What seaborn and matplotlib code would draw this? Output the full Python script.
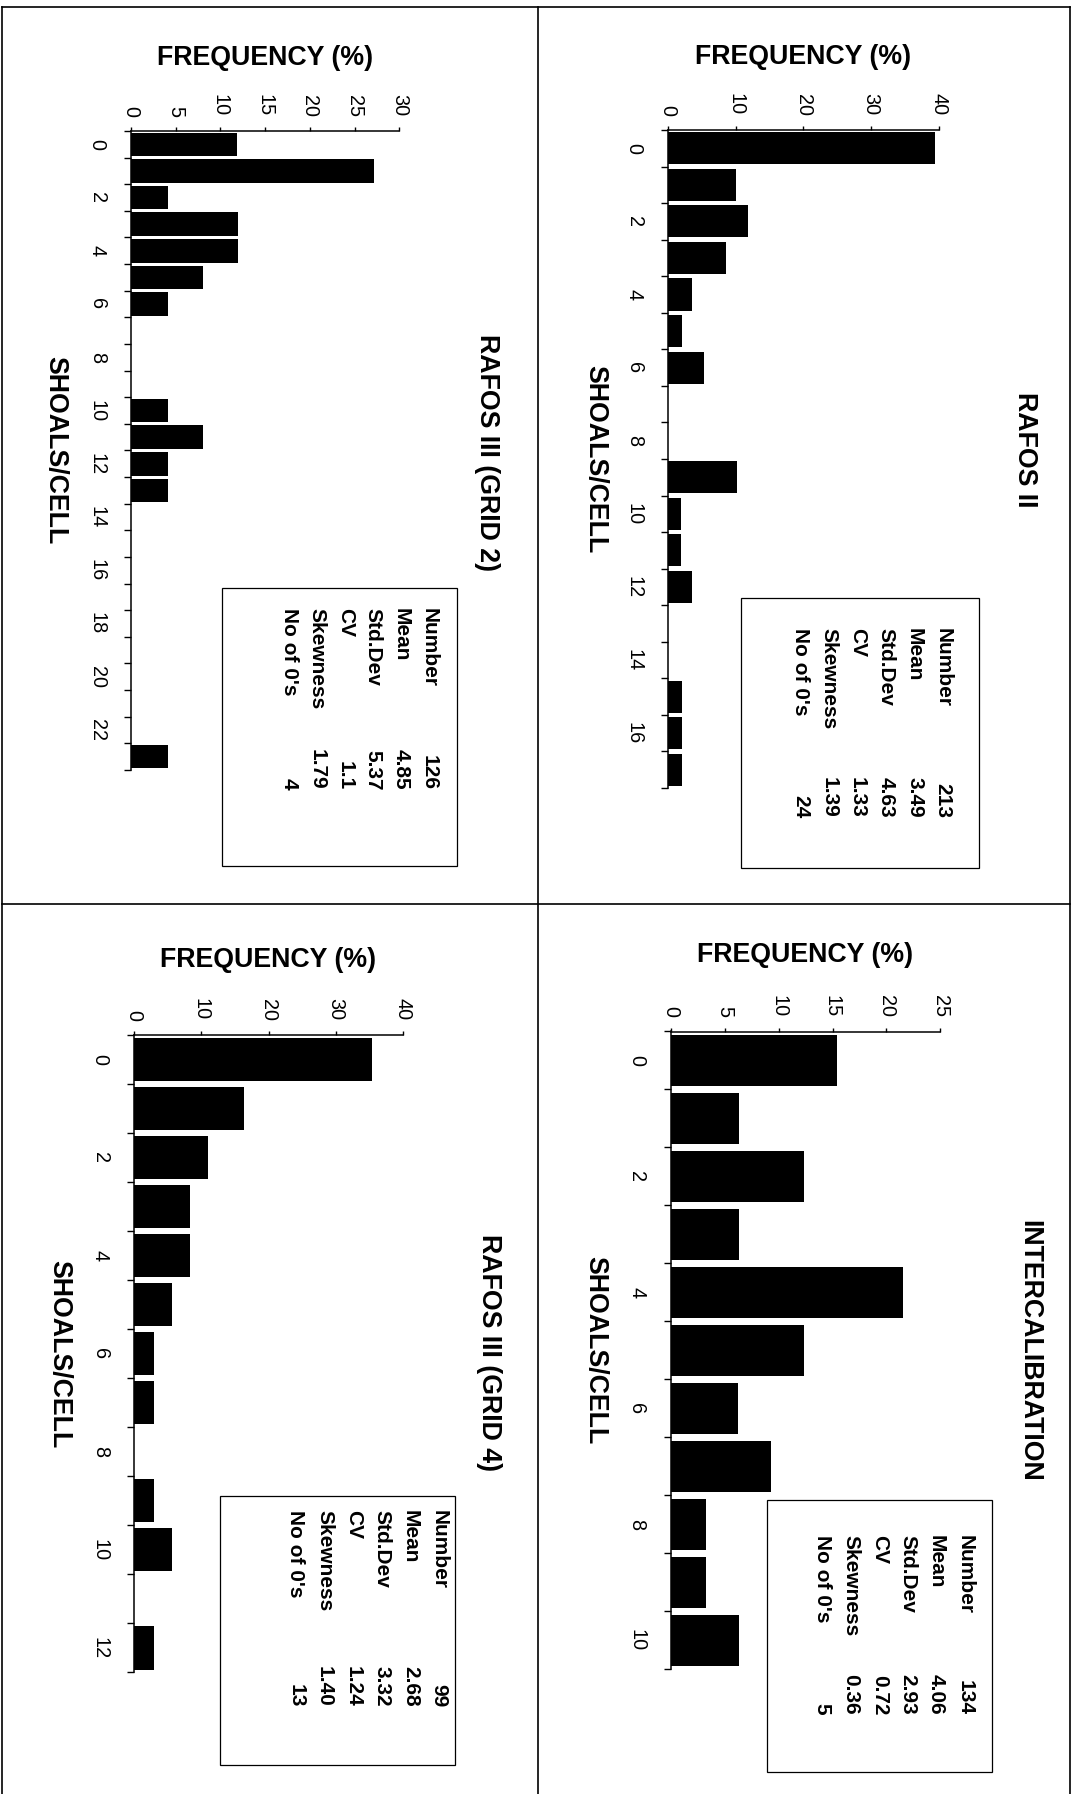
import numpy as np
import pandas as pd
import matplotlib
matplotlib.use("Agg")
import matplotlib.pyplot as plt
import seaborn as sns
from matplotlib.patches import Rectangle
from matplotlib.lines import Line2D

# ---------------- data ----------------
rafos2_shoals = list(range(18))
rafos2_freq = [39.5, 10.1, 11.8, 8.6, 3.6, 2.0, 5.3, 0, 0, 10.2, 1.9, 1.9, 3.6, 0, 0, 2.0, 2.0, 2.1]
rafos2_stats = ["213", "3.49", "4.63", "1.33", "1.39", "24"]

grid2_shoals = list(range(24))
grid2_freq = [11.8, 27.2, 4.1, 11.9, 11.9, 8.0, 4.1, 0, 0, 0, 4.1, 8.0, 4.1, 4.1,
              0, 0, 0, 0, 0, 0, 0, 0, 0, 4.1]
grid2_stats = ["126", "4.85", "5.37", "1.1", "1.79", "4"]

intercal_shoals = list(range(11))
intercal_freq = [15.4, 6.3, 12.4, 6.3, 21.5, 12.4, 6.2, 9.3, 3.3, 3.3, 6.3]
intercal_stats = ["134", "4.06", "2.93", "0.72", "0.36", "5"]

grid4_shoals = list(range(13))
grid4_freq = [35.4, 16.4, 11.0, 8.4, 8.4, 5.6, 3.0, 3.0, 0, 3.0, 5.7, 0, 3.0]
grid4_stats = ["99", "2.68", "3.32", "1.24", "1.40", "13"]

stat_names = ["Number", "Mean", "Std.Dev", "CV", "Skewness", "No of 0's"]
titles = ["RAFOS II", "RAFOS III (GRID 2)", "INTERCALIBRATION", "RAFOS III (GRID 4)"]
freq_label = "FREQUENCY (%)"
shoal_label = "SHOALS/CELL"

# ---------------- layout ----------------
W, H = 1079, 1794
DPI = 100
plt.rcParams['font.family'] = ['Liberation Sans', 'DejaVu Sans']

fig = plt.figure(figsize=(W / DPI, H / DPI), dpi=DPI)
fig.patch.set_facecolor('white')


def fx(px):
    return px / W


def fy(py):
    return 1 - py / H


panels = [
    dict(title=titles[0], shoals=rafos2_shoals, freq=rafos2_freq, stats=rafos2_stats,
         xmax=40, xstep=10, ax=(668, 938.5, 130, 788), freq_y=57, shoals_x=595,
         title_xy=(1025, 450), box=(741, 979, 598, 868), row0=943, rowstep=28.5,
         lab_y=628, val_y=818),
    dict(title=titles[1], shoals=grid2_shoals, freq=grid2_freq, stats=grid2_stats,
         xmax=30, xstep=5, ax=(131, 399.5, 131, 770), freq_y=58, shoals_x=55,
         title_xy=(487, 453), box=(222, 457, 588, 866), row0=429, rowstep=27.9,
         lab_y=608, val_y=790),
    dict(title=titles[2], shoals=intercal_shoals, freq=intercal_freq, stats=intercal_stats,
         xmax=25, xstep=5, ax=(670.8, 940.3, 1031.5, 1669), freq_y=955, shoals_x=595,
         title_xy=(1029, 1351), box=(767, 992, 1500, 1772), row0=965, rowstep=28.6,
         lab_y=1535, val_y=1715),
    dict(title=titles[3], shoals=grid4_shoals, freq=grid4_freq, stats=grid4_stats,
         xmax=40, xstep=10, ax=(134, 403, 1035, 1672.5), freq_y=960, shoals_x=59,
         title_xy=(489, 1353), box=(220, 455, 1496, 1765), row0=439, rowstep=28.6,
         lab_y=1510, val_y=1707),
]

TICK_FS = 14.3
LABEL_FS = 19.3
STAT_FS = 15

for p in panels:
    x0, x1, y0, y1 = p["ax"]
    ax = fig.add_axes([fx(x0), fy(y1), (x1 - x0) / W, (y1 - y0) / H])
    df = pd.DataFrame({"shoals": p["shoals"], "freq": p["freq"]})
    sns.barplot(data=df, x="freq", y="shoals", orient="h", native_scale=True,
                color="black", saturation=1, width=0.88, linewidth=0,
                errorbar=None, ax=ax)
    n = len(p["shoals"])
    ax.set_xlim(0, p["xmax"])
    ax.set_ylim(n - 0.5, -0.5)
    ax.set_facecolor('none')

    ax.xaxis.tick_top()
    ax.set_xticks(np.arange(0, p["xmax"] + 1, p["xstep"]))
    ax.set_xticklabels([str(v) for v in np.arange(0, p["xmax"] + 1, p["xstep"])])
    major_y = np.arange(0, n, 2)
    ax.set_yticks(major_y)
    ax.set_yticklabels([str(v) for v in major_y])
    ax.set_yticks(np.arange(-0.5, n, 1), minor=True)

    ax.tick_params(axis='x', which='major', direction='out', length=3, width=1,
                   pad=7.4, labelsize=TICK_FS, labelrotation=-90,
                   top=True, bottom=False, labeltop=True, labelbottom=False)
    ax.tick_params(axis='x', which='minor', length=0)
    ax.tick_params(axis='y', which='major', length=0, pad=17.5,
                   labelsize=TICK_FS, labelrotation=-90)
    ax.tick_params(axis='y', which='minor', direction='out', length=5, width=1)
    for t in ax.get_yticklabels():
        t.set_va('center')

    for s in ['right', 'bottom']:
        ax.spines[s].set_visible(False)
    for s in ['top', 'left']:
        ax.spines[s].set_linewidth(1.1)

    ax.set_xlabel(freq_label, fontsize=LABEL_FS, fontweight='bold')
    ax.xaxis.set_label_position('top')
    ax.xaxis.set_label_coords(0.5, 1 + (y0 - p["freq_y"]) / (y1 - y0))
    ax.xaxis.label.set_va('center')

    ax.set_ylabel(shoal_label, fontsize=LABEL_FS, fontweight='bold', rotation=-90)
    ax.yaxis.set_label_coords((p["shoals_x"] - x0) / (x1 - x0), 0.5)
    ax.yaxis.label.set_va('center')
    ax.yaxis.label.set_ha('center')

    # title
    tx, ty = p["title_xy"]
    fig.text(fx(tx), fy(ty), p["title"], rotation=-90, rotation_mode='anchor',
             ha='center', va='center', fontsize=LABEL_FS, fontweight='bold')

    # statistics box
    bx0, bx1, by0, by1 = p["box"]
    fig.add_artist(Rectangle((fx(bx0), fy(by1)), (bx1 - bx0) / W, (by1 - by0) / H,
                             transform=fig.transFigure, fill=False,
                             edgecolor='black', linewidth=0.9))
    for i, (name, val) in enumerate(zip(stat_names, p["stats"])):
        rx = p["row0"] - i * p["rowstep"]
        fig.text(fx(rx), fy(p["lab_y"]), name, rotation=-90, rotation_mode='anchor',
                 ha='left', va='center', fontsize=STAT_FS, fontweight='bold')
        fig.text(fx(rx), fy(p["val_y"]), val, rotation=-90, rotation_mode='anchor',
                 ha='right', va='center', fontsize=STAT_FS, fontweight='bold')

# page frame and dividers
frame = [((2, 7), (1070, 7)), ((2, 7), (2, 1794)), ((1070, 7), (1070, 1794)),
         ((538, 7), (538, 1794)), ((2, 904), (1070, 904))]
for (ax_, ay_), (bx_, by_) in frame:
    fig.add_artist(Line2D([fx(ax_), fx(bx_)], [fy(ay_), fy(by_)],
                          transform=fig.transFigure, color='black', linewidth=1.2))

fig.savefig("out.png", dpi=DPI, facecolor='white')
